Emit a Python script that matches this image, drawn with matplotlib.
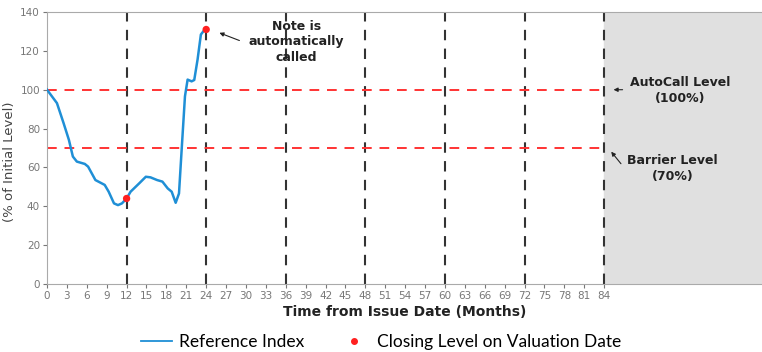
import matplotlib
matplotlib.use("Agg")
import matplotlib.pyplot as plt
from matplotlib.lines import Line2D

# index path, months from issue vs % of initial level
months = [0, 1.5, 2.5, 3.3, 3.9, 4.5, 5.7, 6.2, 7.3, 8.7, 9.3, 10.1, 10.7, 11.3,
          12, 12.6, 13.9, 14.9, 15.6, 16.6, 17.4, 18.2, 18.8, 19.4, 19.9, 20.3,
          20.8, 21.2, 21.8, 22.2, 22.7, 23.2, 23.7, 24]
level = [100, 93.1, 82.8, 74.2, 65.6, 63, 61.8, 60.4, 53.5, 51, 47.5, 41.5, 40.6,
         41.5, 44, 47.5, 51.8, 55.2, 54.9, 53.5, 52.7, 49.2, 47.5, 41.8, 46.6, 69,
         96.6, 105.2, 104.3, 105, 115.5, 128.4, 130.6, 131.3]

valuation_months = [12, 24, 36, 48, 60, 72, 84]
closing_months = [12, 24]
closing_levels = [44, 131]

autocall_level = 100
barrier_level = 70
maturity = 84
x_ticks = list(range(0, 85, 3))
y_ticks = list(range(0, 141, 20))

fig = plt.figure(figsize=(7.62, 3.52), dpi=100)
ax = fig.add_axes([47 / 762, 1 - 284 / 352, 1 - 47 / 762, 272 / 352])

ax.set_xlim(0, 107.8)
ax.set_ylim(0, 140)

# after maturity
ax.axvspan(maturity, 107.8, color="#e0e0e0", zorder=0)

for m in valuation_months:
    ax.axvline(m, color="#333333", lw=1.5, dashes=(5, 4), zorder=2)

for lv in (autocall_level, barrier_level):
    ax.plot([0, maturity], [lv, lv], color="#ff3333", lw=1.4, dashes=(5, 4), zorder=2)

idx_line, = ax.plot(months, level, color="#1f8fd6", lw=1.8, zorder=3)
dots = ax.scatter(closing_months, closing_levels, color="#ff2020", s=28, zorder=4,
                  edgecolors="none")

ax.set_xticks(x_ticks)
ax.set_yticks(y_ticks)
ax.tick_params(labelsize=7.5, colors="#777777", length=3, width=0.8, pad=2)
for s in ("top", "bottom", "left"):
    ax.spines[s].set_color("#aaaaaa")
ax.spines["right"].set_visible(False)

ax.set_xlabel("Time from Issue Date (Months)", fontsize=10, fontweight="bold",
              color="#222222", labelpad=3)
ax.set_ylabel("(% of Initial Level)", fontsize=9.5, color="#444444")
ax.yaxis.set_label_coords(-0.043, 0.45)

arrow = dict(arrowstyle="-|>", color="#222222", lw=0.8, mutation_scale=6)
ax.annotate("", xy=(25.6, 129.8), xytext=(29.4, 124.8), arrowprops=arrow)
ax.text(37.6, 124.8, "Note is\nautomatically\ncalled", ha="center", va="center",
        fontsize=9, fontweight="bold", color="#222222", linespacing=1.25)
ax.annotate("", xy=(85.0, 100), xytext=(87.2, 100), arrowprops=arrow)
ax.text(95.5, 99.6, "AutoCall Level\n(100%)", ha="center", va="center",
        fontsize=9, fontweight="bold", color="#222222", linespacing=1.3)
ax.annotate("", xy=(84.8, 69.2), xytext=(86.8, 60.8), arrowprops=arrow)
ax.text(94.3, 59.4, "Barrier Level\n(70%)", ha="center", va="center",
        fontsize=9, fontweight="bold", color="#222222", linespacing=1.3)

handles = [Line2D([], [], color="#1f8fd6", lw=1.3),
           Line2D([], [], color="#ff2020", marker="o", ls="none", markersize=4)]
fig.legend(handles, ["Reference Index", "Closing Level on Valuation Date"],
           loc="center", bbox_to_anchor=(0.5, 1 - 342 / 352), ncol=2,
           frameon=False, prop={"family": "Lato", "size": 12.5},
           handlelength=1.8, handletextpad=0.4, columnspacing=2.0)

fig.savefig("out.png", dpi=100)
